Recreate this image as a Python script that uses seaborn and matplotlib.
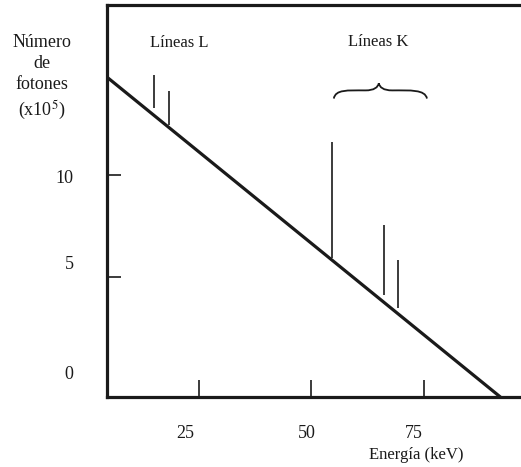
import matplotlib
matplotlib.use("Agg")
import matplotlib.pyplot as plt
import matplotlib.transforms as mtransforms
from matplotlib.path import Path
from matplotlib.patches import PathPatch
import seaborn as sns
import pandas as pd

# ---- data ----
cont_energy = [4.6, 92.0]          # keV, continuum (Bremsstrahlung) end points
cont_counts = [14.8, -0.88]        # x10^5 photons
line_energy = [15.0, 18.3, 54.6, 66.1, 69.2]     # characteristic lines (keV)
line_top = [14.9, 14.1, 11.6, 7.55, 5.83]
line_base = [13.3, 12.45, 5.93, 4.12, 3.48]
xtick_values = [25, 50, 75]
xtick_labels = ["25", "50", "75"]
ytick_marks = [5, 10]
ytick_label_pos = [0.3, 5.7, 9.95]
ytick_labels = ["0", "5", "10"]

sns.set_theme(style="white")
plt.rcParams["font.family"] = ["Liberation Serif", "DejaVu Serif"]
plt.rcParams["mathtext.fontset"] = "stix"

ink = "#1a1a1a"
fig = plt.figure(figsize=(5.21, 4.67), dpi=100)
ax = fig.add_axes([0.205, 0.150, 0.795, 0.839])

df = pd.DataFrame({"Energia": cont_energy, "Fotones": cont_counts})
sns.lineplot(data=df, x="Energia", y="Fotones", ax=ax, color=ink, lw=2.3)
ax.vlines(line_energy, line_base, line_top, color=ink, lw=1.2)

ax.set_xlim(4.56, 96.6)
ax.set_ylim(-0.88, 18.33)

for s in ["top", "left", "bottom"]:
    ax.spines[s].set_visible(True)
    ax.spines[s].set_linewidth(2.3)
    ax.spines[s].set_color(ink)
ax.spines["right"].set_visible(False)

ax.set_xticks(xtick_values)
ax.set_xticklabels(xtick_labels)
ax.tick_params(axis="x", direction="in", length=12, width=1.2, color=ink,
               pad=20, labelsize=13, labelcolor=ink, bottom=True)
# the printed labels sit slightly left of their tick marks
for lab, dx in zip(ax.get_xticklabels(), [-14, -4, -10]):
    lab.set_transform(lab.get_transform() +
                      mtransforms.ScaledTranslation(dx / 100, 0, fig.dpi_scale_trans))
ax.set_yticks(ytick_label_pos)
ax.set_yticklabels(ytick_labels)
ax.set_yticks(ytick_marks, minor=True)
ax.tick_params(axis="y", which="major", length=0, pad=24, labelsize=13,
               labelcolor=ink, left=True)
ax.tick_params(axis="y", which="minor", direction="in", length=10, width=1.2,
               color=ink, left=True)
ax.set_xlabel("")
ax.set_ylabel("")

ax.text(20.6, 16.47, "Líneas L", ha="center", va="center", fontsize=12, color=ink)
ax.text(64.8, 16.5, "Líneas K", ha="center", va="center", fontsize=12, color=ink)

# curly brace over K lines
verts = [(55.0, 13.75), (55.4, 14.2), (58.0, 14.15), (62.0, 14.15),
         (64.0, 14.15), (64.8, 14.3), (65.0, 14.5),
         (65.2, 14.3), (66.0, 14.15), (68.0, 14.15),
         (72.0, 14.15), (75.3, 14.2), (75.7, 13.75)]
codes = [Path.MOVETO] + [Path.CURVE4] * 12
ax.add_patch(PathPatch(Path(verts, codes), fill=False, lw=1.3, color=ink))

fig.text(42 / 521, 1 - 78 / 467, "Número\nde\nfotones\n(x10$^5$)", ha="center",
         va="center", fontsize=13, color=ink, linespacing=1.33)
fig.text(416 / 521, 1 - 455 / 467, "Energía (keV)", ha="center", va="center",
         fontsize=12, color=ink)

fig.savefig("out.png", dpi=100, facecolor="white")
